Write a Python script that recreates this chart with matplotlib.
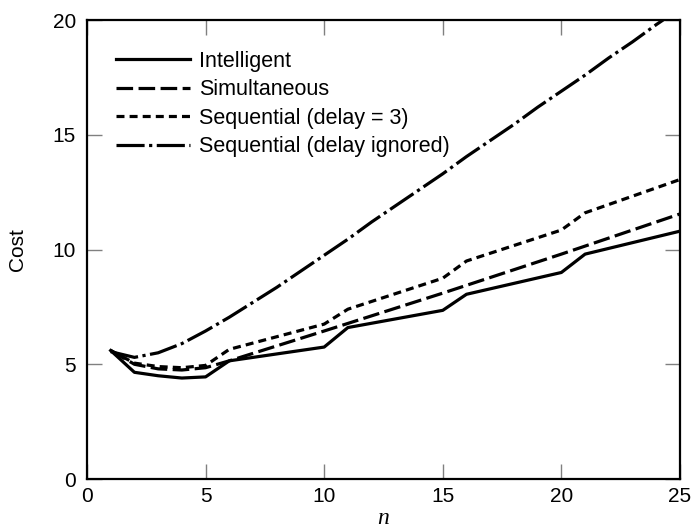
import numpy as np
import matplotlib.pyplot as plt

plt.rcParams['font.family'] = ['Liberation Sans', 'DejaVu Sans']

# data
n_int = [1, 2, 3, 4, 5, 6, 10, 11, 15, 16, 20, 21, 25]
cost_int = [5.6, 4.65, 4.5, 4.4, 4.45, 5.15, 5.75, 6.6, 7.35, 8.05, 9.0, 9.8, 10.8]

n_sim = [1, 2, 3, 4, 5, 6, 10, 15, 20, 25]
cost_sim = [5.6, 5.0, 4.8, 4.75, 4.85, 5.15, 6.45, 8.1, 9.8, 11.55]

n_seq3 = [1, 2, 3, 4, 5, 6, 10, 11, 15, 16, 20, 21, 25]
cost_seq3 = [5.6, 5.05, 4.9, 4.85, 4.95, 5.65, 6.75, 7.4, 8.75, 9.5, 10.85, 11.6, 13.05]

n_seqi = list(range(1, 26))
cost_seqi = [5.55, 5.3, 5.5, 5.9, 6.45, 7.05, 7.7, 8.35, 9.05, 9.75, 10.45, 11.2, 11.9,
             12.6, 13.3, 14.05, 14.75, 15.45, 16.2, 16.9, 17.6, 18.35, 19.05, 19.8, 20.5]

labels = ['Intelligent', 'Simultaneous', 'Sequential (delay = 3)', 'Sequential (delay ignored)']

fig = plt.figure(figsize=(6.93, 5.30), dpi=100)
ax = fig.add_axes([0.1255, 0.0962, 0.8557, 0.8660])

lw = 2.3
ax.plot(n_int, cost_int, color='black', lw=lw, linestyle='-', label=labels[0])
ax.plot(n_sim, cost_sim, color='black', lw=lw, linestyle=(0, (5.2, 1.7)), label=labels[1])
ax.plot(n_seq3, cost_seq3, color='black', lw=lw, linestyle=(0, (2.5, 1.6)), label=labels[2])
ax.plot(n_seqi, cost_seqi, color='black', lw=lw, linestyle=(0, (8.8, 1.4, 1.0, 1.4)), label=labels[3])

ax.set_xlim(0, 25)
ax.set_ylim(0, 20)
ax.set_xticks([0, 5, 10, 15, 20, 25])
ax.set_yticks([0, 5, 10, 15, 20])

for s in ax.spines.values():
    s.set_linewidth(1.6)
ax.tick_params(direction='in', length=11, width=1, color='#808080',
               top=True, right=True, labelsize=15)
ax.tick_params(axis='y', pad=8)
ax.tick_params(axis='x', pad=6)

ax.set_xlabel('n', fontsize=17, fontstyle='italic', family='Liberation Serif', labelpad=1)
ax.set_ylabel('Cost', fontsize=15, labelpad=18)

ax.legend(loc='upper left', frameon=False, fontsize=15.5, handlelength=3.4,
          labelspacing=0.35, handletextpad=0.45, borderaxespad=0,
          bbox_to_anchor=(0.035, 0.952))

fig.savefig('out.png', dpi=100)
